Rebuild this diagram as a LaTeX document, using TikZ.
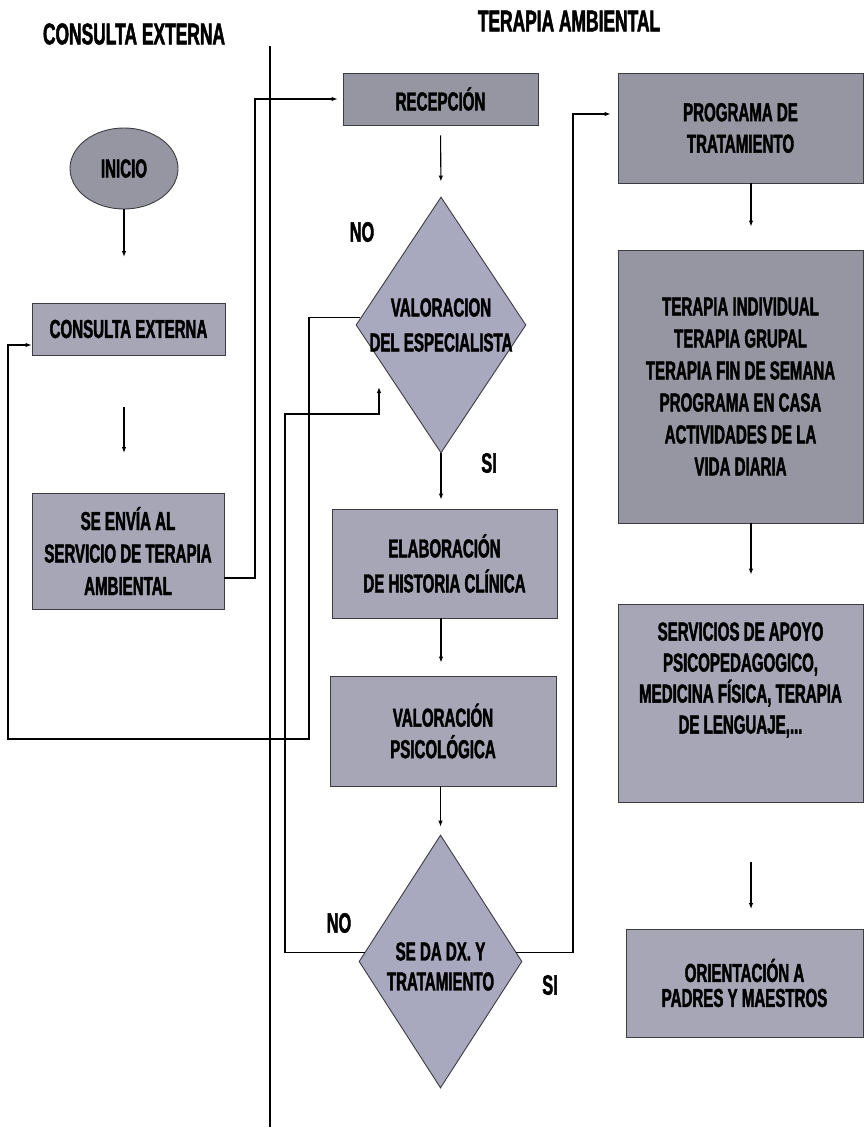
\documentclass[tikz,border=0pt]{standalone}
\usepackage{fontspec}
\newfontfamily\condfont{Liberation Sans}[FakeStretch=0.58, BoldFeatures={FakeBold=1.6}]
\usetikzlibrary{shapes.geometric,arrows.meta,calc}

\definecolor{boxgray}{RGB}{166,166,182}
\definecolor{boxdark}{RGB}{150,150,162}
\definecolor{dgray}{RGB}{168,168,190}
\definecolor{rimgray}{RGB}{60,60,66}

\newcommand{\flowfont}[1]{\condfont\bfseries\fontsize{26}{#1}\selectfont}

\begin{document}
\begin{tikzpicture}[x=1pt,y=-1pt,
  stepbox/.style={draw=rimgray, line width=0.9pt, fill=boxgray, align=center,
    inner sep=0pt, font=\flowfont{31.5}},
  darkbox/.style={stepbox, fill=boxdark},
  decision/.style={diamond, draw=rimgray, line width=0.9pt, fill=dgray, inner sep=0pt},
  inbox/.style={align=center, inner sep=0pt, font=\flowfont{#1}},
  title/.style={font=\condfont\bfseries\fontsize{30}{36}\selectfont},
  answer/.style={font=\condfont\bfseries\fontsize{28}{32}\selectfont},
  arr/.style={-{Latex[length=6pt,width=4.5pt]}, line width=1.1pt},
  lane/.style={line width=2.6pt}
]
\useasboundingbox (0,0) rectangle (867,1129);

% lane titles and divider
\node[title] (tce) at (134,34) {CONSULTA EXTERNA};
\node[title] (tta) at (569,21) {TERAPIA AMBIENTAL};
\coordinate (divtop) at (270,46);
\coordinate (divbot) at (270,1127);
\draw[lane] (divtop) -- (divbot);

% left lane
\node[ellipse, draw=rimgray, line width=0.9pt, fill=boxdark, minimum width=108pt,
  minimum height=81pt, inner sep=0pt, font=\flowfont{30}] (inicio) at (124,168.5) {INICIO};
\node[stepbox, minimum width=193pt, minimum height=52pt] (ce) at (128.5,329) {CONSULTA EXTERNA};
\node[stepbox, minimum width=192pt, minimum height=116pt, font=\flowfont{32.5}] (se) at (128,551)
  {SE ENVÍA AL\\SERVICIO DE TERAPIA\\AMBIENTAL};

% centre column
\node[darkbox, minimum width=195pt, minimum height=52pt] (rec) at (440.5,99) {RECEPCIÓN};
\node[decision, minimum width=170pt, minimum height=256pt,
  label={[inbox=35]center:VALORACION\\DEL ESPECIALISTA}] (d1) at (441,325) {};
\node[stepbox, minimum width=225pt, minimum height=109pt, font=\flowfont{35}] (elab) at (444.5,563.5)
  {ELABORACIÓN\\DE HISTORIA CLÍNICA};
\node[stepbox, minimum width=226pt, minimum height=110pt] (psy) at (443,731)
  {VALORACIÓN\\PSICOLÓGICA};
\node[decision, minimum width=163pt, minimum height=253pt,
  label={[inbox=30, yshift=-5pt]center:SE DA DX. Y\\TRATAMIENTO}] (d2) at (440.5,961.5) {};

% right column
\node[darkbox, minimum width=245pt, minimum height=110pt] (prog) at (740.5,128)
  {PROGRAMA DE\\TRATAMIENTO};
\node[darkbox, minimum width=245pt, minimum height=273pt, font=\flowfont{32}] (ter) at (740.5,386.5)
  {TERAPIA INDIVIDUAL\\TERAPIA GRUPAL\\TERAPIA FIN DE SEMANA\\PROGRAMA EN CASA\\ACTIVIDADES DE LA\\VIDA DIARIA};
\node[stepbox, minimum width=245pt, minimum height=198pt,
  label={[inbox=31, yshift=23pt]center:SERVICIOS DE APOYO\\PSICOPEDAGOGICO,\\MEDICINA FÍSICA, TERAPIA\\DE LENGUAJE,...}]
  (serv) at (740.5,703) {};
\node[stepbox, minimum width=237pt, minimum height=108pt, font=\flowfont{25}] (ori) at (744.5,983)
  {ORIENTACIÓN A\\PADRES Y MAESTROS};

% decision answers
\node[answer] (no1) at (362,232) {NO};
\node[answer] (si1) at (489,463) {SI};
\node[answer] (no2) at (339,923) {NO};
\node[answer] (si2) at (550,985) {SI};

% routing points
\coordinate (cein) at (124,257);
\coordinate (fa1) at (124,407);
\coordinate (fa2) at (124,453);
\coordinate (sx) at (255,578);
\coordinate (n1a) at (309,739);
\coordinate (n1b) at (8,739);
\coordinate (n2a) at (285,414);
\coordinate (n2b) at (379,387);
\coordinate (s2) at (573,114);
\coordinate (rc) at (751,0);
\coordinate (fa3) at (751,862);
\coordinate (fa4) at (751,909);

% left lane flow
\draw[arr] (inicio.south) -- (cein);
\draw[arr] (fa1) -- (fa2);
\draw[arr, shorten >=5pt] (se.east |- sx) -- (sx) |- (rec.west);

% centre flow
\draw[arr, shorten <=10pt, shorten >=15pt] (rec.south) -- (d1.north);
\draw[arr, shorten >=9pt] (d1.south) -- (d1.south |- elab.north);
\draw[arr, shorten >=13pt] (d1.south |- elab.south) -- (d1.south |- psy.north);
\draw[arr, shorten >=8pt] (d2.north |- psy.south) -- (d2.north);

% rejections
\draw[arr] (d1.175) -- (d1.175 -| n1a) -- (n1a) -- (n1b) |- ([yshift=-16pt]ce.west);
\draw[arr] (d2.173) -- (d2.173 -| n2a) -- (n2a) -| (n2b);

% acceptance into treatment
\draw[arr, shorten >=7pt] (d2.7) -- (d2.7 -| s2) -- (s2) -- (s2 -| prog.west);
\draw[arr, shorten >=23pt] (rc |- prog.south) -- (rc |- ter.north);
\draw[arr, shorten >=29pt] (rc |- ter.south) -- (rc |- serv.north);
\draw[arr] (fa3) -- (fa4);
\end{tikzpicture}
\end{document}
